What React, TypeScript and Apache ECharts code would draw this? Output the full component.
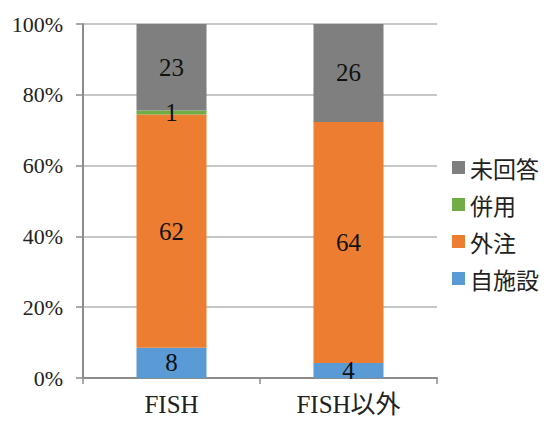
import React, { useEffect, useRef } from "react";
import * as echarts from "echarts";

const categories = ["FISH", "FISH以外"];
const seriesNames = ["自施設", "外注", "併用", "未回答"];
const jishisetsu = [8, 4];
const gaichu = [62, 64];
const heiyo = [1, 0];
const mikaito = [23, 26];
const yTicks = [0, 20, 40, 60, 80, 100];
const colors = ["#5b9bd5", "#ed7d31", "#70ad47", "#7f7f7f"];

const SERIF = "'Liberation Serif', 'Noto Sans CJK JP', serif";

export default function App() {
  const ref = useRef<HTMLDivElement>(null);
  useEffect(() => {
    if (!ref.current) return;
    const chart = echarts.init(ref.current, undefined, { renderer: "svg" });
    const counts = [jishisetsu, gaichu, heiyo, mikaito];
    const totals = categories.map((_, i) => counts.reduce((s, arr) => s + arr[i], 0));
    chart.setOption({
      animation: false,
      backgroundColor: "#ffffff",
      grid: { left: 83, right: 109, top: 24, bottom: 43, containLabel: false },
      legend: {
        orient: "vertical",
        left: 447,
        top: 150,
        itemWidth: 13,
        itemHeight: 13,
        itemGap: 12,
        icon: "rect",
        data: ["未回答", "併用", "外注", "自施設"],
        textStyle: {
          fontFamily: "'Noto Sans CJK JP', sans-serif",
          fontSize: 23,
          lineHeight: 25,
          color: "#222",
        },
      },
      xAxis: {
        type: "category",
        data: categories,
        axisLine: { show: true, lineStyle: { color: "#8c8c8c", width: 2 } },
        axisTick: { show: true, length: 6, lineStyle: { color: "#8c8c8c", width: 1.5 } },
        axisLabel: {
          margin: 14,
          fontFamily: SERIF,
          fontSize: 25,
          color: "#222",
        },
      },
      yAxis: {
        type: "value",
        min: 0,
        max: 100,
        interval: 20,
        axisLine: { show: true, lineStyle: { color: "#8c8c8c", width: 2 } },
        axisTick: { show: true, length: 7, lineStyle: { color: "#8c8c8c", width: 1.5 } },
        splitLine: { show: true, lineStyle: { color: "#b4b4b4", width: 1.5 } },
        axisLabel: {
          margin: 20,
          fontFamily: SERIF,
          fontSize: 22,
          color: "#222",
          formatter: (v: number) => (yTicks.includes(v) ? v + "%" : ""),
        },
      },
      series: seriesNames.map((name, si) => ({
        name,
        type: "bar",
        stack: "total",
        barWidth: 70,
        itemStyle: { color: colors[si] },
        label: {
          show: true,
          position: "inside",
          fontFamily: SERIF,
          fontSize: 25,
          color: "#111",
          formatter: (p: any) => {
            const c = counts[si][p.dataIndex];
            return c > 0 ? String(c) : "";
          },
        },
        data: counts[si].map((c, i) => (c / totals[i]) * 100),
      })),
    });
    return () => chart.dispose();
  }, []);
  return (
    <div
      ref={ref}
      style={{ position: "absolute", left: 0, top: 0, width: 546, height: 421 }}
    />
  );
}
